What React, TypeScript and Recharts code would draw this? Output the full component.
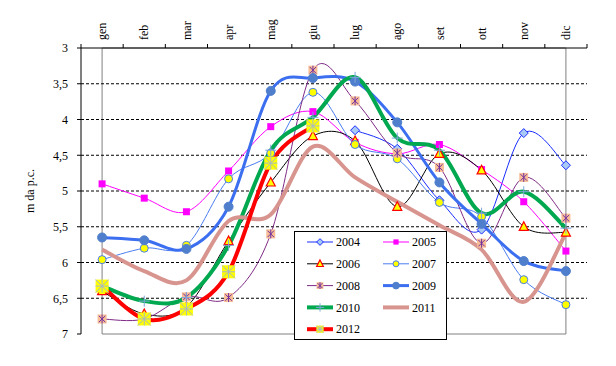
import React from 'react';
import { LineChart, Line, XAxis, YAxis, ReferenceLine, ReferenceArea } from 'recharts';

const MONTHS = ['gen', 'feb', 'mar', 'apr', 'mag', 'giu', 'lug', 'ago', 'set', 'ott', 'nov', 'dic'];
const Y_TICKS = [3, 3.5, 4, 4.5, 5, 5.5, 6, 6.5, 7];
const GRID_VALUES = [3.5, 4, 4.5, 5, 5.5, 6, 6.5];

const Y2004 = [null, null, null, null, null, null, 4.15, 4.41, 5.13, 5.54, 4.19, 4.64];
const Y2005 = [4.9, 5.1, 5.29, 4.72, 4.1, 3.89, 4.32, 4.48, 4.35, 4.7, 5.15, 5.84];
const Y2006 = [6.4, 6.72, 6.62, 5.7, 4.88, 4.23, 4.3, 5.22, 4.48, 4.71, 5.5, 5.58];
const Y2007 = [5.96, 5.8, 5.76, 4.83, 4.47, 3.62, 4.35, 4.55, 5.16, 5.36, 6.24, 6.59];
const Y2008 = [6.79, 6.79, 6.48, 6.49, 5.6, 3.31, 3.74, 4.47, 4.67, 5.73, 4.81, 5.38];
const Y2009 = [5.65, 5.69, 5.81, 5.22, 3.6, 3.42, 3.47, 4.04, 4.88, 5.46, 5.98, 6.12];
const Y2010 = [6.33, 6.54, 6.49, 5.76, 4.43, 3.97, 3.41, 4.26, 4.43, 5.31, 5.01, 5.52];
const Y2011 = [5.82, 6.12, 6.25, 5.42, 5.33, 4.38, 4.81, 5.15, 5.48, 5.82, 6.55, 5.59];
const Y2012 = [6.33, 6.79, 6.65, 6.13, 4.61, 4.09, null, null, null, null, null, null];

const SERIES = [
  { key: 'y2004', name: '2004', values: Y2004, color: '#1a2cff', width: 1, marker: 'diamond' },
  { key: 'y2005', name: '2005', values: Y2005, color: '#ff00ff', width: 1, marker: 'square' },
  { key: 'y2006', name: '2006', values: Y2006, color: '#000000', width: 1, marker: 'triangle' },
  { key: 'y2007', name: '2007', values: Y2007, color: '#4a7cf0', width: 1, marker: 'circle' },
  { key: 'y2008', name: '2008', values: Y2008, color: '#7f2a86', width: 1, marker: 'star' },
  { key: 'y2009', name: '2009', values: Y2009, color: '#3c6ff0', width: 3, marker: 'dot' },
  { key: 'y2010', name: '2010', values: Y2010, color: '#00a84f', width: 4, marker: 'plus' },
  { key: 'y2011', name: '2011', values: Y2011, color: '#d8958f', width: 4, marker: 'none' },
  { key: 'y2012', name: '2012', values: Y2012, color: '#ff0000', width: 4, marker: 'bigstar' },
];

const LEGEND_ROWS = [['2004', '2005'], ['2006', '2007'], ['2008', '2009'], ['2010', '2011'], ['2012']];

const data = MONTHS.map((m, i) => {
  const row: any = { month: m };
  SERIES.forEach(s => { row[s.key] = s.values[i]; });
  return row;
});

const FONT = 'Liberation Serif, serif';
const PLOT_TOP = 48;
const BAND = 506 / MONTHS.length;

// excel-ish smoothing (catmull-rom, bezier handles at 1/6)
const smoothCurve = (context: any) => {
  let pts: number[][] = [];
  return {
    areaStart() {},
    areaEnd() {},
    lineStart() { pts = []; },
    point(x: number, y: number) { pts.push([+x, +y]); },
    lineEnd() {
      const n = pts.length;
      if (!n) return;
      context.moveTo(pts[0][0], pts[0][1]);
      for (let i = 0; i < n - 1; i++) {
        const p0 = pts[Math.max(i - 1, 0)];
        const p1 = pts[i];
        const p2 = pts[i + 1];
        const p3 = pts[Math.min(i + 2, n - 1)];
        const t = 1 / 6;
        context.bezierCurveTo(
          p1[0] + (p2[0] - p0[0]) * t, p1[1] + (p2[1] - p0[1]) * t,
          p2[0] - (p3[0] - p1[0]) * t, p2[1] - (p3[1] - p1[1]) * t,
          p2[0], p2[1]
        );
      }
    },
  };
};

const Marker = ({ kind, cx, cy, k = 1 }: any) => {
  if (cx == null || cy == null) return <g />;
  switch (kind) {
    case 'diamond': {
      const h = 4.5 * k;
      return <polygon points={`${cx},${cy - h} ${cx + h},${cy} ${cx},${cy + h} ${cx - h},${cy}`} fill="#a9c9f5" stroke="#1a2cff" strokeWidth={1} />;
    }
    case 'square': {
      const h = 3.5 * k;
      return <rect x={cx - h} y={cy - h} width={2 * h} height={2 * h} fill="#ff00ff" />;
    }
    case 'triangle': {
      const h = 4.5 * k;
      return <polygon points={`${cx},${cy - h - 0.5} ${cx + h},${cy + h * 0.8} ${cx - h},${cy + h * 0.8}`} fill="#ffff00" stroke="#ff0000" strokeWidth={1.2} />;
    }
    case 'circle':
      return <circle cx={cx} cy={cy} r={4 * k} fill="#ffff00" stroke="#4a7cf0" strokeWidth={1} />;
    case 'star': {
      const h = 4.5 * k;
      const a = 3.2 * k;
      return (
        <g>
          <rect x={cx - h} y={cy - h} width={2 * h} height={2 * h} fill="#f8bd95" />
          <path d={`M${cx - a},${cy - a}L${cx + a},${cy + a}M${cx + a},${cy - a}L${cx - a},${cy + a}M${cx},${cy - h}L${cx},${cy + h}`} stroke="#7030a0" strokeWidth={1} />
        </g>
      );
    }
    case 'dot':
      return <circle cx={cx} cy={cy} r={4.5 * k} fill="#4f7fcc" stroke="#4f7fcc" />;
    case 'plus': {
      const h = 5.5 * k;
      return <path d={`M${cx - h},${cy}L${cx + h},${cy}M${cx},${cy - h}L${cx},${cy + h}`} stroke="#7fa7d9" strokeWidth={1} />;
    }
    case 'bigstar': {
      const h = 6.5 * k;
      return (
        <g>
          <rect x={cx - h} y={cy - h} width={2 * h} height={2 * h} fill="#ffff00" />
          <path d={`M${cx - h},${cy - h}L${cx + h},${cy + h}M${cx + h},${cy - h}L${cx - h},${cy + h}M${cx},${cy - h}L${cx},${cy + h}M${cx - h},${cy}L${cx + h},${cy}`} stroke="#a7b8c8" strokeWidth={1} />
        </g>
      );
    }
    default:
      return <g />;
  }
};

// tick marks sit on category boundaries, labels rotated above the top axis
const MonthTick = (props: any) => {
  const { x, payload, index, visibleTicksCount } = props;
  const ly = PLOT_TOP - 8;
  return (
    <g>
      <line x1={x - BAND / 2} x2={x - BAND / 2} y1={PLOT_TOP - 4} y2={PLOT_TOP} stroke="#000" />
      {index === visibleTicksCount - 1 && (
        <line x1={x + BAND / 2} x2={x + BAND / 2} y1={PLOT_TOP - 4} y2={PLOT_TOP} stroke="#000" />
      )}
      <text x={x} y={ly} dy="0.35em" transform={`rotate(-90, ${x}, ${ly})`} textAnchor="start"
        fontSize={12} fontFamily={FONT} fill="#000">
        {payload.value}
      </text>
    </g>
  );
};

const Legend = () => (
  <div style={{ position: 'absolute', left: 294, top: 231, width: 151, height: 107, border: '1px solid #000', background: '#fff' }}>
    <svg width={151} height={107}>
      {LEGEND_ROWS.map((row, ri) =>
        row.map((name, ci) => {
          const s = SERIES.find(q => q.name === name)!;
          const y = 10 + ri * 21.8;
          const x0 = ci === 0 ? 12 : 88;
          const x1 = x0 + 26;
          return (
            <g key={name}>
              <line x1={x0} x2={x1} y1={y} y2={y} stroke={s.color} strokeWidth={s.width} />
              <Marker kind={s.marker} cx={(x0 + x1) / 2} cy={y} k={s.marker === 'bigstar' ? 0.55 : 0.75} />
              <text x={x1 + 3} y={y} dy="0.35em" fontSize={12} fontFamily={FONT} fill="#000">{name}</text>
            </g>
          );
        })
      )}
    </svg>
  </div>
);

export default function App() {
  return (
    <div style={{ position: 'absolute', left: 0, top: 0, width: 616, height: 366, background: '#fff' }}>
      <LineChart width={616} height={366} data={data} margin={{ top: 8, right: 29, bottom: 32, left: 21 }}>
        <ReferenceArea y1={3} y2={7} fill="none" stroke="#808080" strokeWidth={1} />
        {GRID_VALUES.map(v => (
          <ReferenceLine key={v} y={v} stroke="#000" strokeDasharray="3 2" strokeWidth={1} />
        ))}
        <XAxis dataKey="month" orientation="top" height={40} interval={0} tickLine={false}
          padding={{ left: BAND / 2, right: BAND / 2 }}
          axisLine={{ stroke: '#000' }} tick={<MonthTick />} />
        <YAxis width={60} reversed domain={[3, 7]} ticks={Y_TICKS} interval={0} tickSize={4} tickMargin={9}
          axisLine={{ stroke: '#000' }} tickLine={{ stroke: '#000' }}
          tick={{ fontSize: 12, fill: '#000', fontFamily: FONT }}
          tickFormatter={(v: number) => String(v).replace('.', ',')}
          label={{
            content: ({ viewBox }: any) => (
              <text x={viewBox.x + 9} y={viewBox.y + viewBox.height / 2} dy="0.35em" textAnchor="middle"
                transform={`rotate(-90, ${viewBox.x + 9}, ${viewBox.y + viewBox.height / 2})`}
                fontSize={12} fontFamily={FONT} fill="#000">m da p.c.</text>
            ),
          }} />
        {SERIES.map(s => (
          <Line key={s.key} dataKey={s.key} name={s.name} type={smoothCurve as any} stroke={s.color}
            strokeWidth={s.width} isAnimationActive={false} activeDot={false}
            dot={(p: any) => <Marker key={`${s.key}-${p.index}`} kind={s.marker} cx={p.cx} cy={p.cy} />} />
        ))}
      </LineChart>
      <Legend />
    </div>
  );
}
